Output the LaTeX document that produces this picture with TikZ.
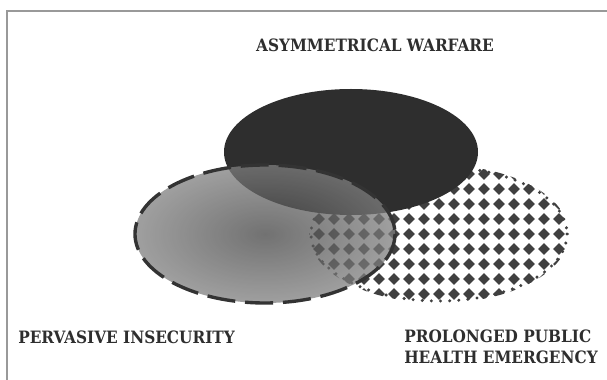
\documentclass[tikz,border=0pt]{standalone}
\usepackage{fontspec}
\setmainfont{DejaVu Serif Condensed}
\begin{document}
\begin{tikzpicture}[
    x=0.025cm, y=-0.025cm,
    every node/.style={font=\fontsize{12.1}{15}\selectfont\bfseries, text=black!82, inner sep=0pt},
    frame/.style={draw=black!40, line width=1.1pt},
    darkset/.style={fill=black!82},
    dashfill/.style={fill opacity=0.75, inner color=black!74, outer color=black!50},
    dashline/.style={draw=black!80, line width=2.4pt, dash pattern=on 20pt off 7pt},
    dotrim/.style={draw=black!75, line width=2.4pt, line cap=round, dash pattern=on 0pt off 6.5pt},
    diam/.style={fill=black!75}
]
\useasboundingbox (0,0) rectangle (607,380);
% Frame
\draw[frame] (7,380) -- (7,11) -- (607,11);

% Dotted ellipse (public health)
\begin{scope}
\clip (439,234) ellipse [x radius=130, y radius=69];
\foreach \i in {-9,...,9}
  \foreach \j in {-5,...,5}
    \fill[diam] (439+\i*15,234+\j*15) +(-5.8,0) -- +(0,-5.8) -- +(5.8,0) -- +(0,5.8) -- cycle;
\end{scope}
\draw[dotrim] (439,234) ellipse [x radius=128, y radius=67];

% Dark ellipse (warfare)
\fill[darkset] (351,152) ellipse [x radius=127, y radius=63];

% Dashed ellipse (insecurity)
\shade[dashfill] (265,234) ellipse [x radius=130, y radius=69];
\draw[dashline] (265,234) ellipse [x radius=130, y radius=69];

% Labels
\node (asym) at (375,45) {ASYMMETRICAL WARFARE};
\node[anchor=west] (pervasive) at (18,337) {PERVASIVE INSECURITY};
\node[anchor=west, align=left] (health) at (404,347) {PROLONGED PUBLIC\\HEALTH EMERGENCY};
\end{tikzpicture}
\end{document}
